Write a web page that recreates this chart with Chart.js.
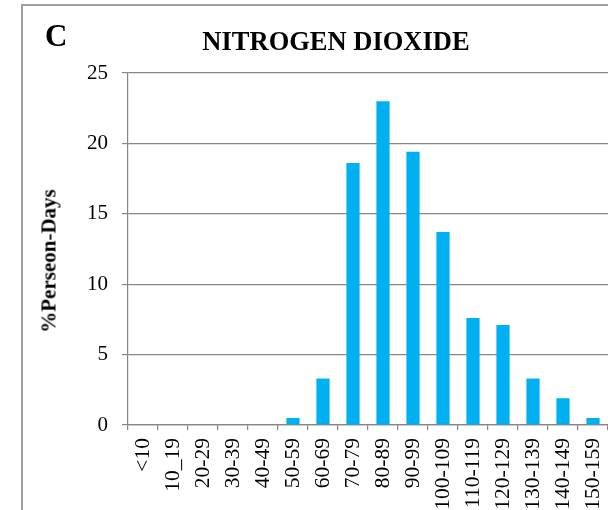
<!DOCTYPE html>
<html>
<head>
<meta charset="utf-8">
<script src="https://cdn.jsdelivr.net/npm/chart.js@4.4.1/dist/chart.umd.min.js"></script>
<style>
  html, body { margin: 0; padding: 0; background: #fff; overflow: hidden; width: 608px; height: 510px; }
  #frame { position: absolute; left: 21px; top: 4px; width: 700px; height: 600px; border-left: 2px solid #a0a0a0; border-top: 2px solid #a0a0a0; box-sizing: border-box; }
  #wrap { position: absolute; left: 0; top: 0; width: 640px; height: 510px; }
  .txt { position: absolute; font-family: "Liberation Serif", "Times New Roman", serif; font-weight: bold; color: #000; line-height: 1; white-space: nowrap; }
  #panel { left: 45px; top: 20px; font-size: 31px; }
  #title { left: 336px; top: 28px; font-size: 26.5px; transform: translateX(-50%); }
  #ytitle { left: 49px; top: 261px; font-size: 21px; transform: translate(-50%, -50%) rotate(-90deg); }
</style>
</head>
<body>
<div id="frame"></div>
<div id="wrap"><canvas id="c"></canvas></div>
<div class="txt" id="panel">C</div>
<div class="txt" id="title">NITROGEN DIOXIDE</div>
<div class="txt" id="ytitle">%Perseon-Days</div>
<script>
const categories = ['<10','10_19','20-29','30-39','40-49','50-59','60-69','70-79','80-89','90-99','100-109','110-119','120-129','130-139','140-149','150-159'];
const personDays = [0, 0, 0, 0, 0, 0.5, 3.3, 18.6, 23.0, 19.4, 13.7, 7.6, 7.1, 3.3, 1.9, 0.5];
const yTicks = [0, 5, 10, 15, 20, 25];

const gridColor = '#878787';
const serif = '"Liberation Serif", "Times New Roman", serif';

new Chart(document.getElementById('c'), {
  type: 'bar',
  data: {
    labels: categories,
    datasets: [{
      data: personDays,
      backgroundColor: '#00B0F0',
      borderWidth: 0,
      categoryPercentage: 0.44,
      barPercentage: 1.0
    }]
  },
  options: {
    responsive: true,
    maintainAspectRatio: false,
    animation: false,
    layout: { padding: { top: 73, right: 32, bottom: 0, left: 0 } },
    plugins: { legend: { display: false }, title: { display: false }, tooltip: { enabled: false } },
    scales: {
      x: {
        grid: { display: true, drawOnChartArea: false, drawTicks: true, tickLength: 5, color: gridColor, lineWidth: 1.2, offset: true },
        border: { display: true, color: gridColor, width: 1.2 },
        ticks: { color: '#000', font: { family: serif, size: 21.5 }, minRotation: 90, maxRotation: 90, padding: 8, autoSkip: false },
        afterFit: (s) => { s.height = 85; }
      },
      y: {
        min: 0, max: 25,
        afterBuildTicks: (s) => { s.ticks = yTicks.map(v => ({ value: v })); },
        grid: { color: gridColor, lineWidth: 1.2, drawTicks: true, tickLength: 6 },
        border: { display: true, color: gridColor, width: 1.2 },
        ticks: { color: '#000', font: { family: serif, size: 21 }, padding: 14 },
        afterFit: (s) => { s.width = 128; }
      }
    }
  }
});
</script>
</body>
</html>
